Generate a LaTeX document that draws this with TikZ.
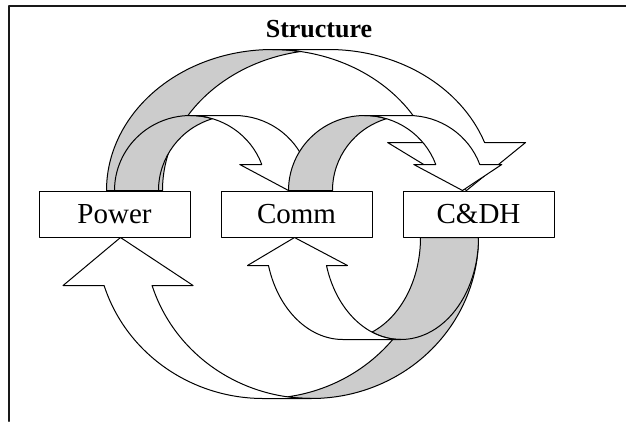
\documentclass[tikz,border=0pt]{standalone}
\usepackage{fontspec}
\setmainfont{Liberation Serif}
\usetikzlibrary{calc,positioning}
\definecolor{ribbon}{RGB}{204,204,204}
\tikzset{
  blockbox/.style={draw,fill=white,line width=1pt,minimum width=151pt,minimum height=46pt,inner sep=0pt,font=\fontsize{29}{34}\selectfont},
  arrback/.style={draw,fill=ribbon,line width=1pt},
  arrfront/.style={draw,fill=white,line width=1pt}
}
\newcommand{\curvarr}[6]{%
  \begin{scope}[#1]
    \pgfmathsetmacro{\cA}{asin(#4/(2*#2))}
    \pgfmathsetmacro{\cB}{asin(#6/#3)}
    \pgfmathsetmacro{\cX}{#2+#2*cos(\cB)}
    \pgfmathsetmacro{\cH}{(#5-#4)/2}
    \path[arrback] (#4,0) arc[start angle=180,end angle={90+\cA},x radius=#2,y radius=#3]
      arc[start angle={90-\cA},end angle=180,x radius=#2,y radius=#3] -- cycle;
    \path[arrfront] ({2*#2+#4/2},0) -- ({\cX-\cH},#6) -- (\cX,#6)
      arc[start angle=\cB,end angle=90,x radius=#2,y radius=#3] -- ++(#4,0)
      arc[start angle=90,end angle=\cB,x radius=#2,y radius=#3] -- ++(\cH,0) -- cycle;
  \end{scope}}
\begin{document}
\begin{tikzpicture}[x=1pt,y=-1pt,line join=round,line cap=round]
  \useasboundingbox (0,0) rectangle (626,421);
  \draw[line width=2pt,black!90] (626,5.5) -- (9,5.5) -- (9,421);
  \node[font=\fontsize{26}{30}\selectfont\bfseries,anchor=base] (title) at (319,37) {Structure};
  \node[blockbox] (power) at (114.5,214) {Power};
  \node[blockbox,right=30pt of power] (comm) {Comm};
  \node[blockbox,right=30pt of comm] (cdh) {C\&DH};
  \curvarr{shift={($(power.north)+(-8,0)$)},yscale=-1}{166}{141}{56}{138}{48}
  \curvarr{shift={(power.north)},yscale=-1}{76}{75}{44}{88}{26}
  \curvarr{shift={($(comm.north)+(-8,0)$)},yscale=-1}{76}{75}{44}{88}{26}
  \curvarr{shift={(cdh.south)},xscale=-1}{167}{161}{48}{130}{48}
  \curvarr{shift={(cdh.south)},xscale=-1}{77.5}{102}{58}{100}{28}
\end{tikzpicture}
\end{document}
